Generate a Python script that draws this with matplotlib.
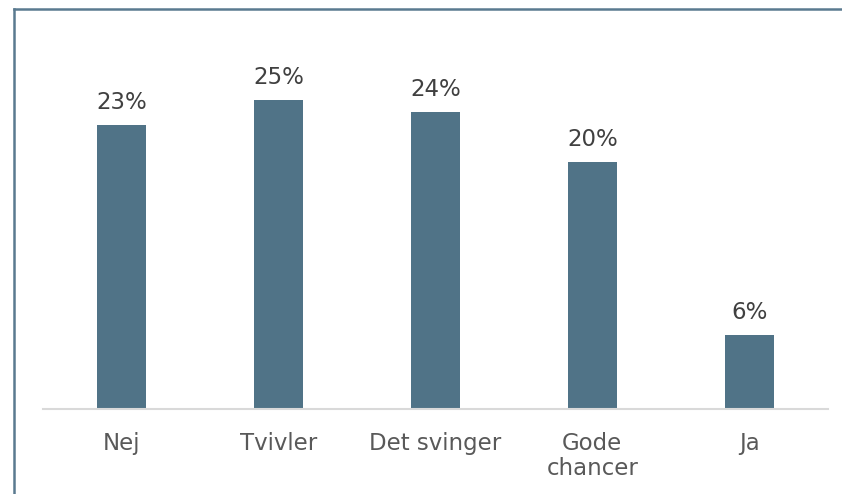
"""Svarfordeling - søjlediagram"""

import matplotlib.pyplot as plt
from matplotlib.lines import Line2D
import numpy as np

kategorier = ['Nej', 'Tvivler', 'Det svinger', 'Gode\nchancer', 'Ja']
andele = [23, 25, 24, 20, 6]
etiketter = ['23%', '25%', '24%', '20%', '6%']

fig = plt.figure(figsize=(8.42, 4.94), dpi=100)
ax = fig.add_axes([0.051, 0.172, 0.932, 0.767])

x = np.arange(len(kategorier))
bars = ax.bar(x, andele, width=0.31, color='#507387')

for b, lab in zip(bars, etiketter):
    ax.annotate(lab, (b.get_x() + b.get_width() / 2, b.get_height()),
                xytext=(0, 8), textcoords='offset points',
                ha='center', va='bottom', fontsize=16.5, color='#404040')

ax.set_xlim(-0.5, 4.5)
ax.set_ylim(0, 30.66)
ax.set_xticks(x)
ax.set_xticklabels(kategorier, fontsize=16.5, color='#595959', linespacing=1.12)
ax.tick_params(axis='x', length=0, pad=16.5)
ax.set_yticks([])

for s in ['top', 'right', 'left']:
    ax.spines[s].set_visible(False)
ax.spines['bottom'].set_color('#d9d9d9')
ax.spines['bottom'].set_linewidth(1.5)

# ramme (kun venstre og top synlig)
fig.add_artist(Line2D([14 / 842, 14 / 842], [0, 1 - 9 / 494],
                      color='#5a7a90', linewidth=1.8))
fig.add_artist(Line2D([14 / 842, 1], [1 - 9 / 494, 1 - 9 / 494],
                      color='#5a7a90', linewidth=1.8))

fig.savefig('out.png', dpi=100)
